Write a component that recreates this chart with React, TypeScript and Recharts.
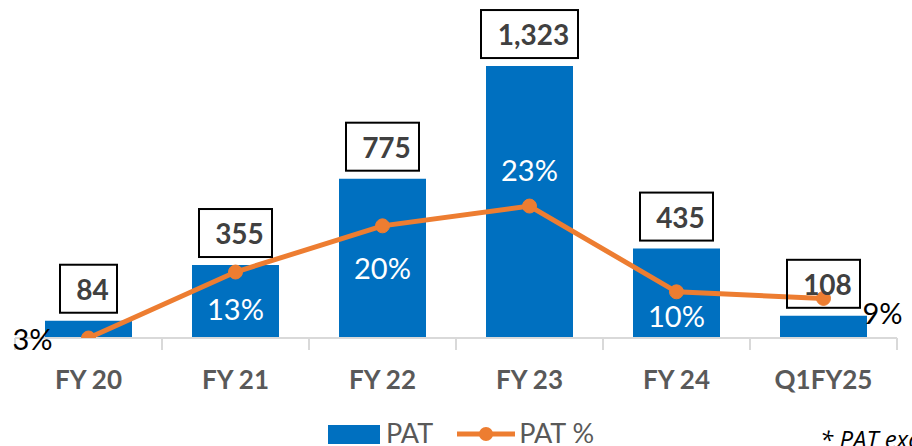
import React from "react";
import {
  ComposedChart,
  Bar,
  Line,
  XAxis,
  YAxis,
  Legend,
  LabelList,
} from "recharts";

const categories = ["FY 20", "FY 21", "FY 22", "FY 23", "FY 24", "Q1FY25"];
const patValues = [84, 355, 775, 1323, 435, 108];
const patPctValues = [3, 13, 20, 23, 10, 9];

const data = categories.map((name, i) => ({
  name,
  pat: patValues[i],
  patPct: patPctValues[i],
}));

const BLUE = "#0070C0";
const ORANGE = "#ED7D31";
const GREY = "#595959";
const FONT = "Lato, 'Open Sans', sans-serif";

// where each % label sits relative to its point
const pctPlacement = [
  { dx: -36, dy: 0, anchor: "end", fill: "#000" },
  { dx: 0, dy: 36, anchor: "middle", fill: "#fff" },
  { dx: 0, dy: 42, anchor: "middle", fill: "#fff" },
  { dx: 0, dy: -37, anchor: "middle", fill: "#fff" },
  { dx: 0, dy: 24, anchor: "middle", fill: "#fff" },
  { dx: 39, dy: 14, anchor: "start", fill: "#000" },
];

function AxisTick(props: any) {
  const { x, y, payload, index } = props;
  const half = payload.offset ?? 73.5;
  return (
    <g>
      <line x1={x - half} x2={x - half} y1={y} y2={y + 12} stroke="#d9d9d9" strokeWidth={2} />
      {index === categories.length - 1 && (
        <line x1={x + half} x2={x + half} y1={y} y2={y + 12} stroke="#d9d9d9" strokeWidth={2} />
      )}
      <text
        x={x}
        y={y + 41}
        textAnchor="middle"
        dominantBaseline="central"
        fontFamily={FONT}
        fontWeight={700}
        fontSize={26}
        fill={GREY}
      >
        {payload.value}
      </text>
    </g>
  );
}

function BoxLabel(props: any) {
  const { x, y, value } = props;
  if (value == null) return null;
  const txt = Number(value).toLocaleString("en-US");
  const digits = txt.replace(/,/g, "").length;
  const commas = txt.length - digits;
  const w = digits * 16 + commas * 8 + 25;
  const h = 48;
  const bottom = y - 8;
  return (
    <g>
      <rect x={x - w / 2} y={bottom - h} width={w} height={h} fill="none" stroke="#000" strokeWidth={2} />
      <text
        x={x + 4}
        y={bottom - h / 2}
        textAnchor="middle"
        dominantBaseline="central"
        fontFamily={FONT}
        fontWeight={700}
        fontSize={28}
        fill="#404040"
      >
        {txt}
      </text>
    </g>
  );
}

function PctLabel(props: any) {
  const { x, y, value, index } = props;
  const p = pctPlacement[index];
  return (
    <text
      x={x + p.dx}
      y={y + p.dy}
      textAnchor={p.anchor}
      dominantBaseline="central"
      fontFamily={FONT}
      fontSize={29}
      fill={p.fill}
    >
      {value}%
    </text>
  );
}

function LegendContent() {
  return (
    <div
      style={{
        display: "flex",
        justifyContent: "center",
        alignItems: "center",
        height: 28,
        fontFamily: FONT,
        fontSize: 27,
        color: GREY,
        paddingLeft: 10,
      }}
    >
      <svg width={52} height={19} style={{ marginRight: 6, marginTop: 4 }}>
        <rect width={52} height={19} fill={BLUE} />
      </svg>
      <span style={{ marginRight: 24 }}>PAT</span>
      <svg width={58} height={20} style={{ marginRight: 4, marginTop: 4 }}>
        <line x1={0} x2={58} y1={10} y2={10} stroke={ORANGE} strokeWidth={5} />
        <circle cx={29} cy={10} r={7} fill={ORANGE} />
      </svg>
      <span>PAT %</span>
    </div>
  );
}

export default function App() {
  return (
    <div
      style={{
        position: "absolute",
        left: 0,
        top: 0,
        width: 912,
        height: 446,
        overflow: "hidden",
        background: "#fff",
      }}
    >
      <ComposedChart
        width={912}
        height={446}
        data={data}
        margin={{ top: 20, right: 15, bottom: 0, left: 15 }}
      >
        <XAxis
          dataKey="name"
          interval={0}
          tickLine={false}
          tickSize={0}
          tickMargin={0}
          height={80}
          axisLine={{ stroke: "#d9d9d9", strokeWidth: 2 }}
          tick={<AxisTick />}
        />
        <YAxis yAxisId="left" hide domain={[0, 1547]} />
        <YAxis yAxisId="right" hide orientation="right" domain={[3, 51.2]} allowDataOverflow />
        <Legend verticalAlign="bottom" height={28} content={<LegendContent />} />
        <Bar yAxisId="left" dataKey="pat" name="PAT" fill={BLUE} barSize={87} isAnimationActive={false} />
        <Line
          yAxisId="right"
          dataKey="patPct"
          name="PAT %"
          stroke={ORANGE}
          strokeWidth={5}
          dot={{ r: 7, fill: ORANGE, stroke: ORANGE, strokeWidth: 1 }}
          activeDot={false}
          isAnimationActive={false}
        >
          <LabelList dataKey="patPct" content={<PctLabel />} />
        </Line>
        <Line
          yAxisId="left"
          dataKey="pat"
          stroke="none"
          dot={false}
          activeDot={false}
          legendType="none"
          isAnimationActive={false}
        >
          <LabelList dataKey="pat" content={<BoxLabel />} />
        </Line>
      </ComposedChart>
      <div
        style={{
          position: "absolute",
          left: 820,
          top: 422,
          fontFamily: "'Open Sans', sans-serif",
          fontStyle: "italic",
          fontSize: 24,
          color: "#000",
          whiteSpace: "nowrap",
        }}
      >
        * PAT excluding exceptional items
      </div>
    </div>
  );
}
